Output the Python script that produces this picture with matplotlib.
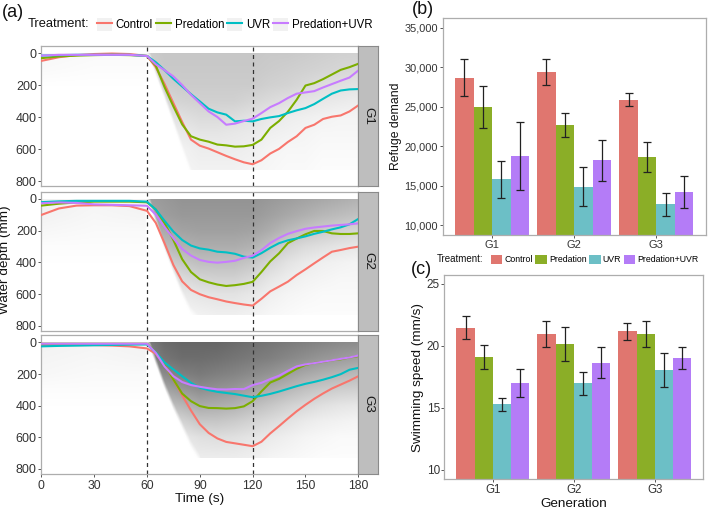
import numpy as np
import matplotlib
matplotlib.use("Agg")
import matplotlib.pyplot as plt
from matplotlib.patches import Patch
from matplotlib.lines import Line2D
from matplotlib.legend_handler import HandlerTuple

plt.rcParams['font.family'] = ['Liberation Sans', 'DejaVu Sans']

# ---------------- data ----------------
TREATMENTS = ['Control', 'Predation', 'UVR', 'Predation+UVR']
GENERATIONS = ['G1', 'G2', 'G3']
EVENT_TIMES = [60, 120]

TIME = [0, 10, 20, 30, 40, 50, 60, 65, 70, 75, 80, 85, 90, 95, 100, 105, 110,
        115, 120, 125, 130, 135, 140, 145, 150, 155, 160, 165, 170, 175, 180]

G1_CONTROL = [48, 25, 12, 5, 2, 5, 17, 87, 193, 312, 430, 540, 578, 596, 619, 642, 663,
              682, 694, 669, 627, 598, 555, 519, 467, 447, 411, 397, 389, 364, 326]
G1_PREDATION = [31, 20, 15, 12, 10, 12, 17, 77, 212, 332, 445, 519, 540, 553, 571, 576, 584,
                582, 573, 540, 467, 424, 366, 291, 202, 187, 162, 133, 104, 87, 66]
G1_UVR = [15, 12, 10, 10, 10, 10, 17, 56, 106, 160, 208, 256, 301, 347, 370, 384, 426,
          422, 426, 411, 401, 393, 374, 357, 343, 318, 285, 253, 233, 226, 224]
G1_PREDUVR = [15, 10, 10, 10, 10, 10, 17, 69, 106, 145, 199, 260, 312, 364, 399, 447, 440,
              424, 409, 374, 337, 312, 280, 253, 245, 237, 214, 193, 172, 152, 108]

G2_CONTROL = [101, 60, 42, 40, 40, 45, 75, 151, 280, 417, 520, 574, 601, 620, 633, 647, 657,
              666, 673, 630, 583, 553, 522, 480, 444, 406, 369, 333, 322, 310, 301]
G2_PREDATION = [42, 30, 22, 17, 17, 17, 21, 67, 153, 259, 380, 461, 507, 526, 540, 549, 544,
                536, 523, 461, 394, 343, 279, 250, 223, 202, 202, 217, 221, 221, 217]
G2_UVR = [20, 15, 12, 12, 12, 12, 17, 67, 138, 206, 259, 294, 312, 320, 333, 337, 346,
          364, 370, 342, 308, 279, 261, 249, 236, 220, 207, 192, 179, 160, 126]
G2_PREDUVR = [27, 22, 25, 34, 37, 40, 43, 99, 177, 248, 316, 357, 385, 397, 402, 397, 390,
              372, 358, 323, 278, 246, 220, 203, 188, 180, 174, 168, 164, 160, 154]

G3_CONTROL = [17, 17, 17, 17, 20, 25, 38, 72, 142, 235, 335, 431, 518, 573, 608, 630, 639,
              648, 657, 629, 576, 530, 482, 436, 395, 357, 323, 292, 267, 242, 214]
G3_PREDATION = [8, 8, 8, 8, 8, 8, 8, 63, 142, 235, 324, 372, 403, 415, 416, 419, 416,
                405, 372, 310, 254, 231, 199, 167, 142, 130, 123, 113, 107, 95, 87]
G3_UVR = [25, 22, 20, 18, 16, 14, 13, 63, 127, 171, 214, 256, 287, 302, 313, 320, 327,
          337, 347, 338, 326, 311, 294, 277, 262, 250, 236, 220, 201, 173, 161]
G3_PREDUVR = [8, 8, 8, 8, 8, 8, 8, 66, 152, 214, 251, 270, 281, 290, 297, 298, 295,
              296, 270, 256, 232, 211, 180, 152, 139, 131, 122, 113, 104, 95, 83]

# darkness of the background track density (0 = white, 1 = black)
SHADE_T = [0, 30, 59.5, 62, 70, 80, 90, 100, 110, 120, 130, 140, 150, 160, 170, 180]
SHADE_D = [0, 100, 200, 300, 400, 500, 600, 730]
SHADE_G1 = [
    [.03, .02, .02, .20, .22, .22, .22, .22, .22, .22, .21, .21, .20, .19, .18, .18],
    [.02, .01, .01, .19, .21, .21, .21, .21, .21, .21, .20, .19, .18, .17, .16, .15],
    [0, 0, 0, .17, .19, .20, .20, .20, .20, .20, .18, .17, .15, .13, .12, .11],
    [0, 0, 0, .12, .15, .17, .18, .18, .18, .16, .14, .12, .10, .09, .08, .07],
    [0, 0, 0, .08, .10, .12, .14, .14, .13, .11, .09, .07, .06, .05, .04, .04],
    [0, 0, 0, .05, .06, .08, .10, .10, .09, .08, .06, .05, .04, .03, .03, .03],
    [0, 0, 0, .03, .04, .05, .07, .07, .07, .06, .04, .03, .03, .02, .02, .02],
    [0, 0, 0, .02, .03, .04, .05, .05, .05, .04, .03, .02, .02, .01, .01, .01],
]
SHADE_G2 = [
    [.06, .04, .05, .38, .40, .42, .42, .42, .42, .42, .40, .38, .36, .34, .32, .30],
    [.05, .03, .04, .35, .38, .40, .40, .40, .40, .40, .37, .34, .31, .28, .26, .24],
    [.03, .02, .02, .30, .33, .36, .37, .37, .37, .36, .32, .27, .23, .20, .18, .16],
    [.01, .01, .01, .22, .26, .30, .32, .32, .32, .30, .24, .18, .14, .12, .10, .09],
    [0, 0, 0, .15, .18, .22, .25, .25, .25, .22, .16, .11, .08, .06, .05, .04],
    [0, 0, 0, .09, .11, .14, .17, .18, .18, .15, .10, .07, .05, .04, .03, .03],
    [0, 0, 0, .05, .06, .08, .10, .11, .11, .09, .06, .04, .03, .02, .02, .02],
    [0, 0, 0, .03, .03, .04, .05, .06, .06, .05, .03, .02, .01, .01, .01, .01],
]
SHADE_G3 = [
    [.05, .04, .05, .52, .58, .60, .60, .60, .58, .56, .54, .52, .50, .48, .46, .45],
    [.04, .03, .04, .48, .54, .57, .57, .56, .54, .52, .50, .47, .44, .41, .39, .37],
    [.03, .02, .02, .40, .46, .50, .52, .50, .48, .45, .42, .38, .34, .31, .29, .27],
    [.01, .01, .01, .30, .35, .40, .44, .42, .40, .36, .32, .28, .24, .21, .19, .18],
    [0, 0, 0, .20, .24, .28, .33, .32, .30, .26, .22, .18, .15, .12, .10, .09],
    [0, 0, 0, .12, .14, .17, .22, .22, .20, .17, .14, .11, .08, .06, .05, .04],
    [0, 0, 0, .06, .07, .09, .12, .13, .12, .10, .08, .06, .04, .03, .02, .02],
    [0, 0, 0, .03, .04, .05, .07, .07, .07, .06, .04, .03, .02, .01, .01, .01],
]
# lower-left edge of the shaded wedge (depth reached at each time)
EDGE_T = [0, 59.4, 59.5, 62, 70, 75, 80, 85, 90, 95, 180]
EDGE_G1 = [2000, 2000, 0, 20, 260, 420, 580, 730, 900, 900, 900]
EDGE_G2 = [2000, 2000, 0, 20, 290, 440, 585, 700, 760, 900, 900]
EDGE_G3 = [2000, 2000, 0, 20, 267, 400, 520, 640, 730, 900, 900]

REFUGE_CONTROL = [28650, 29360, 25910]
REFUGE_CONTROL_SE = [2330, 1660, 800]
REFUGE_PREDATION = [24980, 22710, 18670]
REFUGE_PREDATION_SE = [2710, 1515, 1870]
REFUGE_UVR = [15850, 14880, 12690]
REFUGE_UVR_SE = [2340, 2460, 1470]
REFUGE_PREDUVR = [18800, 18210, 14250]
REFUGE_PREDUVR_SE = [4270, 2610, 2020]
REFUGE_TICKS = [10000, 15000, 20000, 25000, 30000, 35000]

SPEED_CONTROL = [21.48, 20.97, 21.18]
SPEED_CONTROL_SE = [0.90, 1.03, 0.67]
SPEED_PREDATION = [19.11, 20.19, 20.97]
SPEED_PREDATION_SE = [0.98, 1.36, 1.07]
SPEED_UVR = [15.30, 16.99, 18.09]
SPEED_UVR_SE = [0.54, 0.92, 1.37]
SPEED_PREDUVR = [17.04, 18.66, 19.01]
SPEED_PREDUVR_SE = [1.13, 1.23, 0.89]
SPEED_TICKS = [10, 15, 20, 25]

DEPTH_TICKS = [0, 200, 400, 600, 800]
TIME_TICKS = [0, 30, 60, 90, 120, 150, 180]

# ---------------- style ----------------
LINE_COLORS = ['#F8766D', '#7CAE00', '#00BFC4', '#C77CFF']
BAR_COLORS = ['#E0766F', '#8BAE27', '#6CBFC6', '#B47CF7']
BORDER = '#ADADAD'
TXT = '#333333'

W, H = 709, 512
fig = plt.figure(figsize=(W / 100, H / 100), dpi=100)


def fbox(x0, y0, x1, y1):
    return [x0 / W, 1 - y1 / H, (x1 - x0) / W, (y1 - y0) / H]


def style_axes(ax, tsize, length=2.0, pad=1.2):
    for s in ax.spines.values():
        s.set_color(BORDER)
        s.set_linewidth(0.9)
    ax.tick_params(colors='#555555', labelcolor=TXT, labelsize=tsize, length=length,
                   width=0.7, pad=pad)


def upsample(vals, t_fine, d_fine):
    vals = np.asarray(vals, dtype=float)
    rows = np.array([np.interp(t_fine, SHADE_T, r) for r in vals])
    return np.array([np.interp(d_fine, SHADE_D, rows[:, j]) for j in range(len(t_fine))]).T


# ---------------- panel (a) ----------------
lines_by_gen = {
    'G1': [G1_CONTROL, G1_PREDATION, G1_UVR, G1_PREDUVR],
    'G2': [G2_CONTROL, G2_PREDATION, G2_UVR, G2_PREDUVR],
    'G3': [G3_CONTROL, G3_PREDATION, G3_UVR, G3_PREDUVR],
}
shade_by_gen = {'G1': SHADE_G1, 'G2': SHADE_G2, 'G3': SHADE_G3}
edge_by_gen = {'G1': EDGE_G1, 'G2': EDGE_G2, 'G3': EDGE_G3}
panel_px = {'G1': (45.7, 186.0), 'G2': (191.5, 330.5), 'G3': (335.0, 473.5)}
AX_L, AX_R, STRIP_R = 41.3, 358.3, 377.7

t_fine = np.linspace(0, 180, 541)
d_fine = np.linspace(0, 730, 366)

for gen in GENERATIONS:
    y0, y1 = panel_px[gen]
    ax = fig.add_axes(fbox(AX_L, y0, AX_R, y1))
    dark = upsample(shade_by_gen[gen], t_fine, d_fine)
    edge = np.interp(t_fine, EDGE_T, edge_by_gen[gen])
    mask = np.clip((edge[None, :] - d_fine[:, None]) / 50.0 + 0.5, 0, 1)
    grey = 1 - np.clip(dark * mask, 0, 1)
    img = np.dstack([grey, grey, grey])
    ax.imshow(img, extent=(0, 180, 730, 0), aspect='auto', interpolation='bilinear', zorder=0)
    for ev in EVENT_TIMES:
        ax.axvline(ev, color='#333333', lw=0.9, ls=(0, (3.2, 2.8)), zorder=1)
    for vals, col in zip(lines_by_gen[gen], LINE_COLORS):
        ax.plot(TIME, vals, color=col, lw=1.5, zorder=3, solid_capstyle='round')
    ax.set_xlim(0, 180)
    ax.set_ylim(830, -47)
    ax.set_yticks(DEPTH_TICKS)
    ax.set_xticks(TIME_TICKS)
    style_axes(ax, 9, length=2.2, pad=1.0)
    if gen != 'G3':
        ax.tick_params(axis='x', bottom=False, labelbottom=False)
    else:
        ax.tick_params(axis='x', pad=2.5, labelsize=8.7)
        ax.set_xlabel('Time (s)', fontsize=9.7, color='#111111', labelpad=1)
    # strip
    sax = fig.add_axes(fbox(AX_R, y0, STRIP_R, y1))
    sax.set_facecolor('#BEBEBE')
    sax.set_xticks([])
    sax.set_yticks([])
    for s in sax.spines.values():
        s.set_color('#8A8A8A')
        s.set_linewidth(0.8)
    sax.text(0.5, 0.5, gen, rotation=-90, ha='center', va='center', fontsize=9.7,
             color='#1A1A1A', transform=sax.transAxes)

fig.text(5.5 / W, 1 - 259.5 / H, 'Water depth (mm)', rotation=90, ha='center', va='center',
         fontsize=9.7, color='#111111')

# legend (a)
fig.text(28 / W, 1 - 24 / H, 'Treatment:', ha='left', va='center', fontsize=9.3, color='#111111')
handles_a = [(Patch(facecolor='#F1F1F1', edgecolor='none'), Line2D([], [], color=c, lw=1.5))
             for c in LINE_COLORS]
fig.legend(handles_a, TREATMENTS, loc='center left', bbox_to_anchor=(96.7 / W, 1 - 24.5 / H),
           ncol=4, frameon=False, fontsize=8.3, handlelength=1.3, handleheight=1.45,
           handletextpad=0.35, columnspacing=0.25, borderpad=0, borderaxespad=0,
           handler_map={tuple: HandlerTuple(ndivide=1)})

fig.text(2 / W, 1 - 12.8 / H, '(a)', ha='left', va='center', fontsize=13, color='#111111')

# ---------------- bar panels ----------------
x = np.arange(1, len(GENERATIONS) + 1)
offsets = [-0.3375, -0.1125, 0.1125, 0.3375]
bw = 0.225

# (b)
axb = fig.add_axes(fbox(442.7, 17.8, 705.7, 235.3))
ref_means = [REFUGE_CONTROL, REFUGE_PREDATION, REFUGE_UVR, REFUGE_PREDUVR]
ref_se = [REFUGE_CONTROL_SE, REFUGE_PREDATION_SE, REFUGE_UVR_SE, REFUGE_PREDUVR_SE]
for m, s, off, col in zip(ref_means, ref_se, offsets, BAR_COLORS):
    axb.bar(x + off, m, width=bw, color=col, edgecolor='none', zorder=1)
    axb.errorbar(x + off, m, yerr=s, fmt='none', ecolor='#222222', elinewidth=0.9,
                 capsize=2.8, capthick=0.9, zorder=2)
axb.set_xlim(0.4, 3.6)
axb.set_ylim(8750, 36250)
axb.set_yticks(REFUGE_TICKS)
axb.set_yticklabels([f'{v:,}' for v in REFUGE_TICKS])
axb.set_xticks(x)
axb.set_xticklabels(GENERATIONS)
style_axes(axb, 7.9, length=2.0, pad=1.2)
axb.tick_params(axis='x', labelsize=8.0, pad=1.5)
axb.set_ylabel('Refuge demand', fontsize=8.8, color='#111111', labelpad=2)
fig.text(411.7 / W, 1 - 10 / H, '(b)', ha='left', va='center', fontsize=13, color='#111111')

# (c)
axc = fig.add_axes(fbox(444.3, 274.7, 703.3, 479.3))
sp_means = [SPEED_CONTROL, SPEED_PREDATION, SPEED_UVR, SPEED_PREDUVR]
sp_se = [SPEED_CONTROL_SE, SPEED_PREDATION_SE, SPEED_UVR_SE, SPEED_PREDUVR_SE]
for m, s, off, col in zip(sp_means, sp_se, offsets, BAR_COLORS):
    axc.bar(x + off, m, width=bw, color=col, edgecolor='none', zorder=1)
    axc.errorbar(x + off, m, yerr=s, fmt='none', ecolor='#222222', elinewidth=0.9,
                 capsize=2.8, capthick=0.9, zorder=2)
axc.set_xlim(0.4, 3.6)
axc.set_ylim(9.25, 25.75)
axc.set_yticks(SPEED_TICKS)
axc.set_xticks(x)
axc.set_xticklabels(GENERATIONS)
style_axes(axc, 8.5, length=2.0, pad=1.2)
axc.tick_params(axis='x', labelsize=8.3, pad=1.5)
axc.set_ylabel('Swimming speed (mm/s)', fontsize=9.7, color='#111111', labelpad=2)
axc.set_xlabel('Generation', fontsize=9.7, color='#111111', labelpad=1)
fig.text(410.7 / W, 1 - 269 / H, '(c)', ha='left', va='center', fontsize=13, color='#111111')

# legend (c)
fig.text(437 / W, 1 - 259.5 / H, 'Treatment:', ha='left', va='center', fontsize=7.0, color='#111111')
handles_c = [Patch(facecolor=c, edgecolor='none') for c in BAR_COLORS]
fig.legend(handles_c, TREATMENTS, loc='center left', bbox_to_anchor=(490.5 / W, 1 - 259.5 / H),
           ncol=4, frameon=False, fontsize=6.35, handlelength=1.3, handleheight=1.25,
           handletextpad=0.25, columnspacing=0.3, borderpad=0, borderaxespad=0)

fig.savefig('out.png', dpi=100)
